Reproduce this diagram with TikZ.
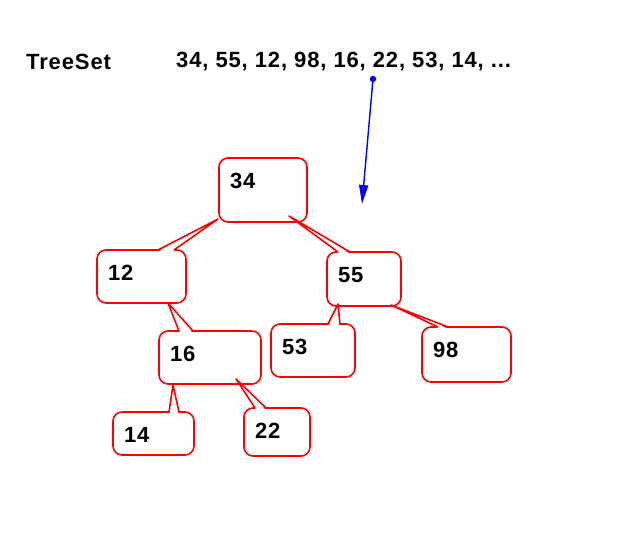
\documentclass[tikz,border=0pt]{standalone}
\usepackage{fontspec}
\setmainfont{Liberation Sans}
\newfontfamily\diagfont[LetterSpace=4]{Liberation Sans}
\usepackage{tikz}
\usetikzlibrary{arrows.meta,positioning,calc}
\definecolor{setblue}{RGB}{0,0,255}
\definecolor{nodered}{RGB}{255,0,0}

\tikzset{
  treebox/.style={draw=nodered, line width=1.6pt, rounded corners=9pt, fill=white,
    anchor=north west, outer sep=0pt, inner xsep=11pt, inner ysep=0pt,
    align=left, text height=30pt, font=\diagfont\bfseries\fontsize{22}{26}\selectfont},
  pointer/.style={draw=nodered, line width=1.6pt, line join=round},
  heading/.style={anchor=base west, inner sep=0pt, font=\diagfont\bfseries\fontsize{22}{26}\selectfont},
  insert/.style={setblue, line width=1.4pt, -{Triangle[length=19pt,width=9pt]}}
}

\begin{document}
\begin{tikzpicture}[x=1pt, y=-1pt]
                \useasboundingbox (0,0) rectangle (625,538);

                % Title and input sequence
                \node[heading] (title) at (26,70) {TreeSet};
                \node[heading] (seq) at (176,67) {34, 55, 12, 98, 16, 22, 53, 14, ...};

                % Tree nodes
                \node[treebox, text width=66pt, text depth=34pt] (n34) at (219,158) {34};
                \node[treebox, text width=67pt, text depth=23pt] (n12) at (97,250) {12};
                \node[treebox, text width=52pt, text depth=24pt] (n55) at (327,252) {55};
                \node[treebox, text width=80pt, text depth=23pt] (n16) at (159,331) {16};
                \node[treebox, text width=62pt, text depth=23pt] (n53) at (271,324) {53};
                \node[treebox, text width=67pt, text depth=25pt] (n98) at (422,327) {98};
                \node[treebox, text width=59pt, text depth=13pt] (n14) at (113,412) {14};
                \node[treebox, text width=44pt, text depth=18pt] (n22) at (244,408) {22};

                % Pointers from each child up to its parent
                \foreach \child/\a/\b/\parent/\dx/\dy in {n12/61/77/n34/-1/-3, n55/11/23/n34/70/-6,
                    n16/20/34/n12/71/0, n53/57/69/n55/11/-2, n98/16/26/n55/64/-1,
                    n14/56/66/n16/14/1, n22/11/22/n16/77/-5} {
                  \fill[white] ($(\child.north west)+(\a+1,1.2)$) -- ($(\parent.south west)+(\dx,\dy)$)
                    -- ($(\child.north west)+(\b-1,1.2)$) -- cycle;
                  \draw[pointer] ($(\child.north west)+(\a,0)$) -- ($(\parent.south west)+(\dx,\dy)$)
                    -- ($(\child.north west)+(\b,0)$);
                }

                % Next value goes into the tree
                \coordinate (pick) at (373,79);
                \coordinate (slot) at (362,204);
                \fill[setblue] (pick) circle (3.2);
                \draw[insert] (pick) -- (slot);
            \end{tikzpicture}
\end{document}
